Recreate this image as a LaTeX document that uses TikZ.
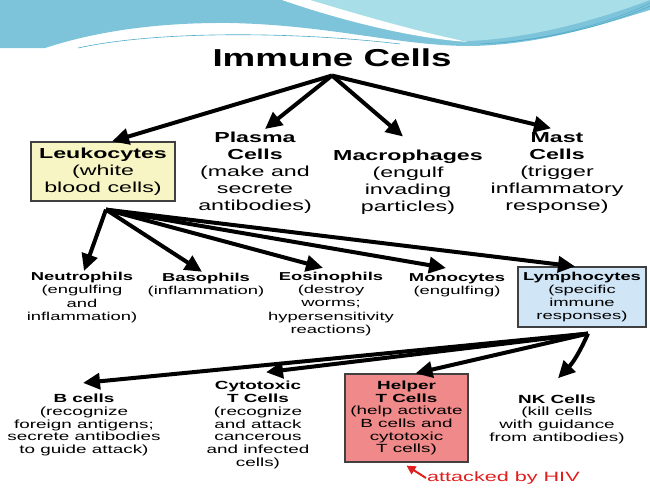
\documentclass[tikz,border=0pt]{standalone}
\usepackage{fontspec}
\setmainfont{Liberation Sans}[FakeStretch=1.6]
\newfontfamily\titlefont{Liberation Sans}[FakeStretch=1.5]
\usetikzlibrary{arrows.meta}

\definecolor{leukofill}{RGB}{248,245,196}
\definecolor{lymphfill}{RGB}{208,229,245}
\definecolor{helperfill}{RGB}{240,138,138}
\definecolor{bandblue}{RGB}{125,196,218}
\definecolor{bandcyan}{RGB}{168,222,232}
\definecolor{bandline}{RGB}{80,170,200}
\definecolor{hivred}{RGB}{225,30,30}

\begin{document}
\begin{tikzpicture}[x=1pt,y=-1pt,
    arr/.style={line width=4pt,-{Triangle[length=17pt,width=16pt]}},
    big/.style={align=center,font=\fontsize{14.5}{17}\selectfont,inner sep=1pt},
    mid/.style={align=center,font=\fontsize{11.5}{13.3}\selectfont,inner sep=1pt},
    low/.style={align=center,font=\fontsize{11.8}{12.7}\selectfont,inner sep=1pt},
    cellbox/.style={draw=black!75,line width=1.2pt}]

  \useasboundingbox (0,0) rectangle (650,488);

  % header band
  \fill[bandblue] (0,0) -- (650,0) -- (650,10) .. controls (600,25) and (540,45) .. (470,46)
    .. controls (400,46) and (330,25) .. (230,23) .. controls (130,22) and (70,40) .. (45,48)
    -- (0,48) -- cycle;
  \fill[bandcyan] (300,0) .. controls (360,22) and (420,38) .. (468,41)
    .. controls (540,38) and (610,15) .. (650,0) -- cycle;
  \fill[white] (282,0) .. controls (340,20) and (410,38) .. (468,42)
    .. controls (410,30) and (350,12) .. (310,0) -- cycle;
  \draw[bandline,line width=0.6pt] (78,48) .. controls (160,30) and (300,32) .. (400,44);
  \draw[bandline,line width=0.6pt] (480,44) .. controls (560,40) and (620,20) .. (650,6);
  \draw[bandline,line width=0.4pt] (500,43) .. controls (570,36) and (625,16) .. (650,3);

  \node[font=\titlefont\fontsize{24.5}{28}\selectfont\bfseries] (title) at (332,58) {Immune Cells};

  % first row
  \node[big,cellbox,fill=leukofill,minimum width=144pt,minimum height=59pt] (leuko) at (103,171.5)
    {\textbf{Leukocytes}\\(white\\blood cells)};
  \node[big] (plasma) at (255,173) {\textbf{Plasma}\\\textbf{Cells}\\(make and\\secrete\\antibodies)};
  \node[big] (macro) at (408,182) {\textbf{Macrophages}\\(engulf\\invading\\particles)};
  \node[big] (mast) at (557,173) {\textbf{Mast}\\\textbf{Cells}\\(trigger\\inflammatory\\response)};

  % second row
  \node[mid] (neut) at (82,297.5) {\textbf{Neutrophils}\\(engulfing\\and\\inflammation)};
  \node[mid] (baso) at (206,285) {\textbf{Basophils}\\(inflammation)};
  \node[mid] (eosi) at (331,304) {\textbf{Eosinophils}\\(destroy\\worms;\\hypersensitivity\\reactions)};
  \node[mid] (mono) at (457,285) {\textbf{Monocytes}\\(engulfing)};
  \node[mid,cellbox,fill=lymphfill,minimum width=128pt,minimum height=60pt] (lymph) at (582,297)
    {\textbf{Lymphocytes}\\(specific\\immune\\responses)};

  % third row
  \node[low] (bcell) at (84,425) {\textbf{B cells}\\(recognize\\foreign antigens;\\secrete antibodies\\to guide attack)};
  \node[low] (cyto) at (258,425) {\textbf{Cytotoxic}\\\textbf{T Cells}\\(recognize\\and attack\\cancerous\\and infected\\cells)};
  \node[low,cellbox,fill=helperfill,minimum width=123pt,minimum height=88pt] (helper) at (406.5,418)
    {\textbf{Helper}\\\textbf{T Cells}\\(help activate\\B cells and\\cytotoxic\\T cells)};
  \node[low] (nk) at (557,419) {\textbf{NK Cells}\\(kill cells\\with guidance\\from antibodies)};

  \node[text=hivred,font=\fontsize{13.5}{16}\selectfont,anchor=west,inner sep=1pt] (hiv) at (426,478) {attacked by HIV};

  % arrows
  \coordinate (apex) at ([yshift=-5pt]title.south);
  \coordinate (lk) at ([xshift=3pt,yshift=-8pt]leuko.south);
  \coordinate (ly) at ([xshift=6pt,yshift=-6pt]lymph.south);

  \draw[arr] (apex) -- ([xshift=9pt]leuko.north);
  \draw[arr] (apex) -- ([xshift=10pt,yshift=2pt]plasma.north);
  \draw[arr] (apex) -- ([xshift=-5pt,yshift=12pt]macro.north);
  \draw[arr] (apex) -- ([xshift=-6pt,yshift=3pt]mast.north);

  \draw[arr] (lk) -- ([xshift=2pt]neut.north);
  \draw[arr] (lk) -- ([xshift=-4pt]baso.north);
  \draw[arr] (lk) -- ([xshift=-8pt,yshift=3pt]eosi.north);
  \draw[arr] (lk) -- ([xshift=-11pt,yshift=4pt]mono.north);
  \draw[arr] (lk) -- ([xshift=-7pt]lymph.north);

  \draw[arr] (ly) -- ([xshift=-1pt,yshift=10pt]bcell.north);
  \draw[arr] (ly) -- ([xshift=8pt,yshift=8pt]cyto.north);
  \draw[arr] (ly) -- ([xshift=9pt]helper.north);
  \draw[arr] (ly) to[bend left=10] ([xshift=1pt,yshift=15pt]nk.north);

  \draw[hivred,line width=2pt,-{Triangle[length=9pt,width=9pt]}] (hiv.west) -- ([yshift=-3pt]helper.south);

\end{tikzpicture}
\end{document}
